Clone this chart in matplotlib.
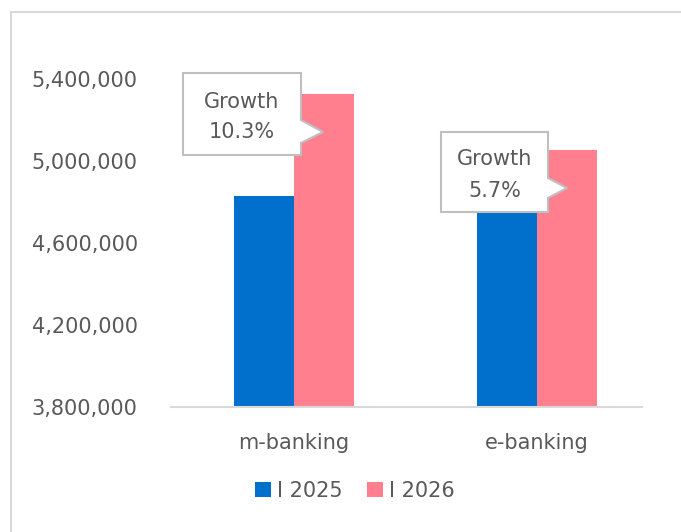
import numpy as np
import matplotlib.pyplot as plt
from matplotlib.patches import Polygon, Rectangle
from matplotlib.ticker import FuncFormatter

categories = ['m-banking', 'e-banking']
series = ['I 2025', 'I 2026']
values_2025 = [4829000, 4781000]
values_2026 = [5327000, 5054000]
growth = ['10.3%', '5.7%']

blue = '#0070CC'
pink = '#FF7F8E'
gray_txt = '#595959'
fs = 15

W, H = 681, 532
fig = plt.figure(figsize=(W / 100, H / 100), dpi=100)
plt.rcParams['font.family'] = ['DejaVu Sans']

# outer frame (cut at right/bottom like the reference)
fig.patches.append(Rectangle((10.5 / W, 0 - 0.1), 1.2, 1 - 11.5 / H + 0.1,
                             transform=fig.transFigure, fill=False,
                             edgecolor='#d9d9d9', linewidth=1.5))

ax = fig.add_axes([171 / W, 1 - 407 / H, (642 - 171) / W, (407 - 79) / H])
x = np.arange(len(categories))
bw = 60 / 243
ax.bar(x - bw / 2, values_2025, bw, color=blue, label=series[0])
ax.bar(x + bw / 2, values_2026, bw, color=pink, label=series[1])
ax.set_xlim((171 - 294) / 243, (642 - 294) / 243)
ax.set_ylim(3800000, 5400000)
ax.set_yticks([3800000, 4200000, 4600000, 5000000, 5400000])
ax.yaxis.set_major_formatter(FuncFormatter(lambda v, p: f'{int(v):,}'))
ax.set_xticks(x)
ax.set_xticklabels(categories)
for s in ['top', 'right', 'left']:
    ax.spines[s].set_visible(False)
ax.spines['bottom'].set_color('#d9d9d9')
ax.spines['bottom'].set_linewidth(1.5)
ax.tick_params(axis='y', length=0, pad=24, labelsize=fs, labelcolor=gray_txt)
ax.tick_params(axis='x', length=0, pad=19, labelsize=fs, labelcolor=gray_txt)


def callout(box, tip, base, lines, ys):
    x0, y0, x1, y1 = box
    pts = [(x0, y0), (x1, y0), (x1, base[0]), tip, (x1, base[1]), (x1, y1), (x0, y1)]
    pts = [(px / W, 1 - py / H) for px, py in pts]
    fig.patches.append(Polygon(pts, closed=True, transform=fig.transFigure,
                               facecolor='white', edgecolor='#bfbfbf', linewidth=1.5,
                               zorder=5))
    for t, yy in zip(lines, ys):
        fig.text((x0 + x1) / 2 / W, 1 - yy / H, t, ha='center', va='center',
                 fontsize=fs, color=gray_txt, zorder=6)


callout((183, 73, 301, 155), (323, 132), (120, 143), ['Growth', growth[0]], [102, 132])
callout((441, 132, 548, 212), (567, 188), (178, 198), ['Growth', growth[1]], [159, 191])

fig.legend(loc='center', bbox_to_anchor=(355 / W, 1 - 491 / H), ncol=2, frameon=False,
           handlelength=0.75, handleheight=0.75, handletextpad=0.3, columnspacing=1.2,
           fontsize=fs, labelcolor=gray_txt)

fig.savefig('out.png', dpi=100)
